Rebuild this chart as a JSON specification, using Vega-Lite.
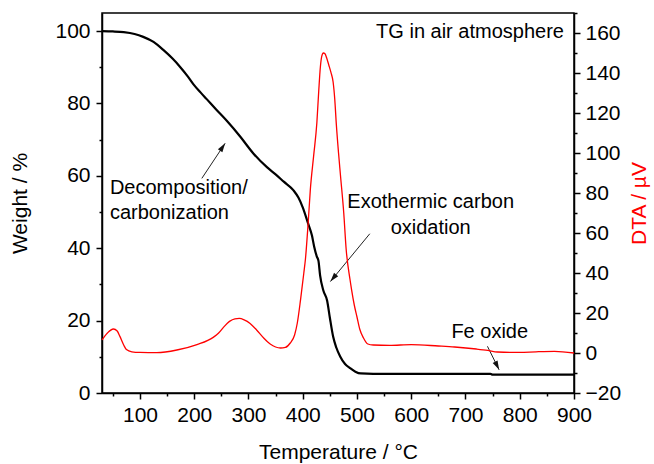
{
  "$schema": "https://vega.github.io/schema/vega-lite/v6.json",
  "width": 472,
  "height": 380,
  "autosize": "none",
  "padding": {"left": 102, "top": 13, "right": 80, "bottom": 71},
  "config": {
    "font": "Liberation Sans",
    "view": {"stroke": "black", "strokeWidth": 1.5},
    "axis": {
      "grid": false,
      "domainColor": "black",
      "domainWidth": 1.5,
      "tickColor": "black",
      "tickWidth": 1.5,
      "labelColor": "black",
      "labelFont": "Liberation Sans",
      "labelFontSize": 21,
      "labelOverlap": false,
      "labelFlush": false,
      "titleFont": "Liberation Sans",
      "titleFontSize": 21,
      "titleFontWeight": "normal",
      "titleColor": "black"
    }
  },
  "datasets": {
    "tg": [
      {"T": 30, "W": 100}, {"T": 50, "W": 99.9}, {"T": 70, "W": 99.7}, {"T": 90, "W": 99.2},
      {"T": 106, "W": 98.4}, {"T": 125, "W": 97}, {"T": 143, "W": 94.8}, {"T": 160, "W": 92.4},
      {"T": 174, "W": 90.1}, {"T": 188, "W": 87.5}, {"T": 199, "W": 85.2}, {"T": 212, "W": 83},
      {"T": 223, "W": 81.2}, {"T": 240, "W": 78.4}, {"T": 260, "W": 75.2}, {"T": 285, "W": 70.8},
      {"T": 309, "W": 66.2}, {"T": 334, "W": 62.4}, {"T": 350, "W": 60.4}, {"T": 365, "W": 58.4},
      {"T": 383, "W": 56}, {"T": 392, "W": 54}, {"T": 400, "W": 51.3}, {"T": 410, "W": 46.8},
      {"T": 417, "W": 43.5}, {"T": 421, "W": 40.5}, {"T": 426, "W": 37.7}, {"T": 429, "W": 36.5},
      {"T": 432, "W": 32.5}, {"T": 438, "W": 28.3}, {"T": 445, "W": 25.5}, {"T": 450, "W": 20.8},
      {"T": 456, "W": 15.6}, {"T": 462, "W": 12.5}, {"T": 469, "W": 10.1}, {"T": 478, "W": 8},
      {"T": 487, "W": 6.9}, {"T": 497, "W": 5.9}, {"T": 507, "W": 5.4}, {"T": 530, "W": 5.3},
      {"T": 600, "W": 5.3}, {"T": 700, "W": 5.3}, {"T": 746, "W": 5.3}, {"T": 750, "W": 5.05},
      {"T": 800, "W": 5.05}, {"T": 900, "W": 5.05}
    ],
    "dta": [
      {"T": 30, "D": 6.5}, {"T": 40, "D": 10}, {"T": 51, "D": 12}, {"T": 58, "D": 11},
      {"T": 63, "D": 8.3}, {"T": 70, "D": 4}, {"T": 75, "D": 1.7}, {"T": 85, "D": 0.6},
      {"T": 100, "D": 0.3}, {"T": 131, "D": 0.2}, {"T": 168, "D": 1.5}, {"T": 205, "D": 4.2},
      {"T": 235, "D": 7.8}, {"T": 245, "D": 10}, {"T": 255, "D": 13.2}, {"T": 265, "D": 15.8},
      {"T": 275, "D": 17.1}, {"T": 283, "D": 17.3}, {"T": 292, "D": 16.6}, {"T": 303, "D": 14.8},
      {"T": 315, "D": 11.5}, {"T": 328, "D": 7.5}, {"T": 340, "D": 4.5}, {"T": 350, "D": 3},
      {"T": 359, "D": 2.5}, {"T": 368, "D": 2.8}, {"T": 377, "D": 5}, {"T": 385, "D": 9},
      {"T": 390, "D": 15}, {"T": 396, "D": 26.7}, {"T": 402, "D": 40}, {"T": 405, "D": 47},
      {"T": 410, "D": 65}, {"T": 414, "D": 81.7}, {"T": 420, "D": 98.3}, {"T": 426, "D": 115},
      {"T": 429.5, "D": 131}, {"T": 432.5, "D": 143}, {"T": 435, "D": 148.3}, {"T": 438, "D": 150},
      {"T": 441, "D": 149.6}, {"T": 444, "D": 147.6}, {"T": 448, "D": 144}, {"T": 452, "D": 140.3},
      {"T": 456, "D": 135.5}, {"T": 459, "D": 127}, {"T": 462, "D": 114}, {"T": 466, "D": 100},
      {"T": 469.5, "D": 89}, {"T": 475.6, "D": 70}, {"T": 480, "D": 52}, {"T": 487, "D": 37},
      {"T": 490, "D": 31.7}, {"T": 495, "D": 24}, {"T": 500, "D": 18}, {"T": 505, "D": 12},
      {"T": 512, "D": 7.5}, {"T": 520, "D": 4.5}, {"T": 530, "D": 4}, {"T": 560, "D": 3.8},
      {"T": 600, "D": 4.2}, {"T": 650, "D": 3.5}, {"T": 680, "D": 3}, {"T": 720, "D": 2},
      {"T": 741, "D": 1.3}, {"T": 759, "D": 0.5}, {"T": 800, "D": 0.3}, {"T": 830, "D": 0.6},
      {"T": 864, "D": 0.8}, {"T": 900, "D": 0}
    ],
    "arrows": [
      {"note": "decomposition", "T": 214, "W": 59.3, "T2": 257, "W2": 69.0},
      {"note": "oxidation", "T": 523.6, "W": 44.0, "T2": 451, "W2": 30.8},
      {"note": "fe", "T": 740.5, "W": 12.9, "T2": 762, "W2": 6.4}
    ]
  },
  "encoding": {
    "x": {
      "field": "T",
      "type": "quantitative",
      "scale": {"domain": [30, 900], "nice": false, "zero": false},
      "axis": {
        "title": "Temperature / °C",
        "values": [50, 100, 150, 200, 250, 300, 350, 400, 450, 500, 550, 600, 650, 700, 750, 800, 850, 900],
        "labelExpr": "datum.value % 100 ? '' : datum.label",
        "tickSize": {"condition": {"test": "datum.value % 100 !== 0", "value": 3}, "value": 6},
        "labelPadding": 5,
        "titlePadding": 16
      }
    }
  },
  "layer": [
    {
      "encoding": {
        "y": {
          "field": "W",
          "type": "quantitative",
          "scale": {"domain": [0, 105], "nice": false},
          "axis": {
            "orient": "left",
            "title": "Weight / %",
            "values": [0, 10, 20, 30, 40, 50, 60, 70, 80, 90, 100],
            "labelExpr": "datum.value % 20 ? '' : datum.label",
            "tickSize": {"condition": {"test": "datum.value % 20 !== 0", "value": 3}, "value": 6},
            "labelPadding": 6,
            "titlePadding": 24
          }
        }
      },
      "layer": [
        {
          "data": {"name": "tg"},
          "mark": {"type": "line", "color": "black", "strokeWidth": 2.2, "interpolate": "monotone"}
        },
        {
          "data": {"name": "arrows"},
          "mark": {"type": "rule", "color": "#222222", "strokeWidth": 1},
          "encoding": {"x2": {"field": "T2"}, "y2": {"field": "W2"}}
        },
        {
          "data": {"name": "arrows"},
          "transform": [{"filter": "datum.note === 'decomposition'"}],
          "mark": {"type": "point", "shape": "M0,0L-0.6,2L0.6,2Z", "filled": true, "color": "#111111", "size": 81, "strokeWidth": 0, "opacity": 1, "angle": 34},
          "encoding": {
            "x": {"field": "T2", "type": "quantitative"},
            "y": {"field": "W2", "type": "quantitative"}
          }
        },
        {
          "data": {"name": "arrows"},
          "transform": [{"filter": "datum.note === 'oxidation'"}],
          "mark": {"type": "point", "shape": "M0,0L-0.6,2L0.6,2Z", "filled": true, "color": "#111111", "size": 81, "strokeWidth": 0, "opacity": 1, "angle": 219.5},
          "encoding": {
            "x": {"field": "T2", "type": "quantitative"},
            "y": {"field": "W2", "type": "quantitative"}
          }
        },
        {
          "data": {"name": "arrows"},
          "transform": [{"filter": "datum.note === 'fe'"}],
          "mark": {"type": "point", "shape": "M0,0L-0.6,2L0.6,2Z", "filled": true, "color": "#111111", "size": 81, "strokeWidth": 0, "opacity": 1, "angle": 153.5},
          "encoding": {
            "x": {"field": "T2", "type": "quantitative"},
            "y": {"field": "W2", "type": "quantitative"}
          }
        },
        {
          "data": {"values": [
            {"label": "Decomposition/", "T": 44.6, "W": 56.7},
            {"label": "carbonization", "T": 44.6, "W": 49.8}
          ]},
          "mark": {"type": "text", "align": "left", "baseline": "middle", "fontSize": 20, "color": "black"},
          "encoding": {"text": {"field": "label"}}
        },
        {
          "data": {"values": [
            {"label": "Exothermic carbon", "T": 635.8, "W": 52.8},
            {"label": "oxidation", "T": 635.8, "W": 45.6},
            {"label": "Fe oxide", "T": 744.7, "W": 16.9}
          ]},
          "mark": {"type": "text", "align": "center", "baseline": "middle", "fontSize": 20, "color": "black"},
          "encoding": {"text": {"field": "label"}}
        },
        {
          "data": {"values": [
            {"label": "TG in air atmosphere", "T": 881.5, "W": 99.7}
          ]},
          "mark": {"type": "text", "align": "right", "baseline": "middle", "fontSize": 20, "color": "black"},
          "encoding": {"text": {"field": "label"}}
        }
      ]
    },
    {
      "data": {"name": "dta"},
      "mark": {"type": "line", "color": "#ff0000", "strokeWidth": 1.3, "interpolate": "monotone"},
      "encoding": {
        "y": {
          "field": "D",
          "type": "quantitative",
          "scale": {"domain": [-20, 170], "nice": false, "zero": false},
          "axis": {
            "orient": "right",
            "title": "DTA / µV",
            "titleColor": "#ff0000",
            "titleAngle": -90,
            "titleBaseline": "top",
            "values": [-20, -10, 0, 10, 20, 30, 40, 50, 60, 70, 80, 90, 100, 110, 120, 130, 140, 150, 160, 170],
            "labelExpr": "datum.value % 20 ? '' : datum.label",
            "tickSize": {"condition": {"test": "datum.value % 20 !== 0", "value": 3}, "value": 6},
            "labelPadding": 5,
            "titlePadding": 8
          }
        }
      }
    }
  ],
  "resolve": {"scale": {"y": "independent"}}
}
